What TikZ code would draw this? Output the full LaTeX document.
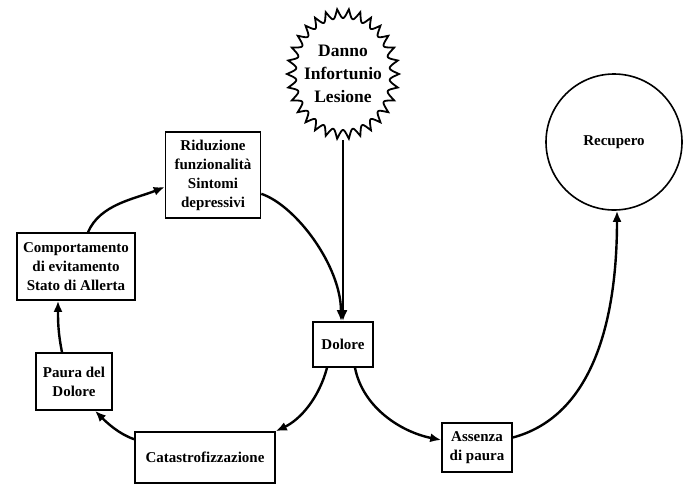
\documentclass[tikz,border=0pt]{standalone}
\usepackage{fontspec}
\setmainfont{Liberation Serif}
\usetikzlibrary{arrows.meta,shapes.geometric}
\begin{document}
\begin{tikzpicture}[x=1pt,y=-1pt,
  box/.style={draw, line width=1.6pt, align=center, inner sep=0pt,
    font=\fontsize{15}{19}\selectfont\bfseries},
  flow/.style={line width=2.4pt, -{Latex[length=11pt,width=9pt]}},
  burst/.style={line width=1.8pt},
]
\useasboundingbox[fill=white] (0,0) rectangle (685,499);

% spiky outline around the "Danno" node
\draw[burst] plot[domain=0:360, samples=721]
  ({343+cos(\x)*(47+9*(1-abs(sin(15*\x))))},
   {74+sin(\x)*(56+9*(1-abs(sin(15*\x))))}) -- cycle;
\node[ellipse, minimum width=112pt, minimum height=132pt, inner sep=0pt,
  align=center, font=\fontsize{17.5}{23}\selectfont\bfseries]
  (danno) at (343,74) {Danno\\Infortunio\\Lesione};

% boxes of the cycle
\node[box, minimum width=95pt, minimum height=86pt] (riduzione) at (213,175)
  {Riduzione\\funzionalità\\Sintomi\\depressivi};
\node[box, minimum width=118pt, minimum height=67pt] (comportamento) at (76,266.5)
  {Comportamento\\di evitamento\\Stato di Allerta};
\node[box, minimum width=76pt, minimum height=57pt] (paura) at (74,381.5)
  {Paura del\\Dolore};
\node[box, minimum width=140pt, minimum height=51pt] (catastro) at (205,457.5)
  {Catastrofizzazione};
\node[box, minimum width=60pt, minimum height=45pt] (dolore) at (343,344.5)
  {Dolore};
\node[box, minimum width=70pt, minimum height=49pt] (assenza) at (477,447.5)
  {Assenza\\di paura};
\node[circle, draw, line width=1.6pt, minimum size=136pt, inner sep=0pt,
  font=\fontsize{15}{19}\selectfont\bfseries] (recupero) at (614,142) {Recupero};

% connectors
\draw[flow] (danno.south) -- (dolore.north);
\draw[flow] ([yshift=25pt]riduzione.south east)
  .. controls +(35,12) and +(0,-55) .. ([xshift=-2pt]dolore.north);
\draw[flow] ([xshift=-16pt]dolore.south)
  .. controls +(-8,30) and +(25,-12) .. (catastro.north east);
\draw[flow] ([yshift=-8pt]catastro.north west)
  .. controls +(-15,-5) and +(12,12) .. ([xshift=21pt]paura.south);
\draw[flow] ([xshift=-12pt]paura.north)
  .. controls +(-4,-20) and +(0,20) .. ([xshift=-18pt]comportamento.south);
\draw[flow] ([xshift=12pt]comportamento.north)
  .. controls +(12,-28) and +(-30,12) .. ([yshift=-12pt]riduzione.west);
\draw[flow] ([xshift=12pt]dolore.south)
  .. controls +(8,40) and +(-40,-8) .. ([yshift=7.5pt]assenza.west);
\draw[flow] ([yshift=10pt]assenza.east)
  .. controls +(75,-20) and +(0,120) .. ([xshift=3pt]recupero.south);
\end{tikzpicture}
\end{document}
